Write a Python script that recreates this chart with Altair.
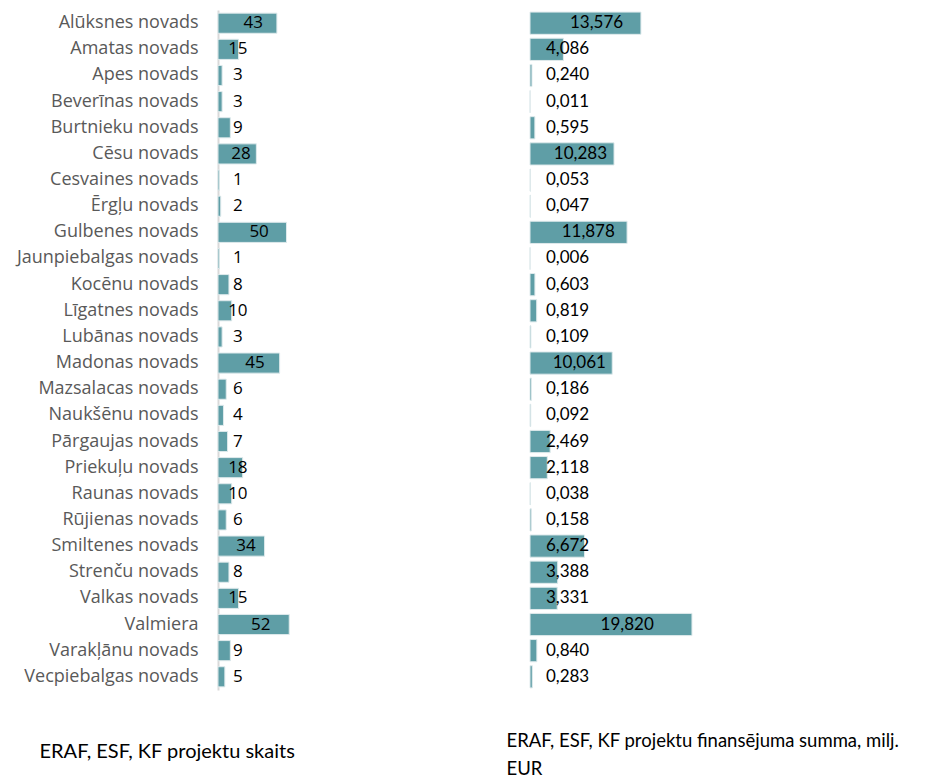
import altair as alt
import pandas as pd

categories = [
    "Alūksnes novads", "Amatas novads", "Apes novads", "Beverīnas novads",
    "Burtnieku novads", "Cēsu novads", "Cesvaines novads", "Ērgļu novads",
    "Gulbenes novads", "Jaunpiebalgas novads", "Kocēnu novads", "Līgatnes novads",
    "Lubānas novads", "Madonas novads", "Mazsalacas novads", "Naukšēnu novads",
    "Pārgaujas novads", "Priekuļu novads", "Raunas novads", "Rūjienas novads",
    "Smiltenes novads", "Strenču novads", "Valkas novads", "Valmiera",
    "Varakļānu novads", "Vecpiebalgas novads",
]
project_counts = [43, 15, 3, 3, 9, 28, 1, 2, 50, 1, 8, 10, 3, 45, 6, 4, 7, 18,
                  10, 6, 34, 8, 15, 52, 9, 5]
funding_mln_eur = [13.576, 4.086, 0.240, 0.011, 0.595, 10.283, 0.053, 0.047,
                   11.878, 0.006, 0.603, 0.819, 0.109, 10.061, 0.186, 0.092,
                   2.469, 2.118, 0.038, 0.158, 6.672, 3.388, 3.331, 19.820,
                   0.840, 0.283]

title_left = "ERAF, ESF, KF projektu skaits"
title_right = ["ERAF, ESF, KF projektu finansējuma summa, milj.", "EUR"]

df = pd.DataFrame({"cat": categories, "count": project_counts, "fund": funding_mln_eur})

TEAL = "#5f9ea6"
H = 680

left_base = alt.Chart(df).transform_calculate(
    lx="max(0.6 * datum.count, 14.5)"
)
yl = alt.Y(
    "cat:N", sort=None, title=None,
    scale=alt.Scale(paddingInner=0.23, paddingOuter=0.12),
    axis=alt.Axis(labelFont="Open Sans", labelFontSize=18, labelColor="#595959",
                  labelPadding=20, ticks=False, domainColor="#d9d9d9",
                  domainWidth=2, labelLimit=300),
)
left_bars = left_base.mark_bar(color=TEAL, stroke="#dfeaec", strokeWidth=1).encode(
    y=yl,
    x=alt.X("count:Q", scale=alt.Scale(domain=[0, 73], nice=False), axis=None),
)
left_text = left_base.mark_text(font="Open Sans", fontSize=17, color="#000000",
                                align="center").encode(
    y=alt.Y("cat:N", sort=None),
    x=alt.X("lx:Q"),
    text=alt.Text("count:Q"),
)
left = alt.layer(left_bars, left_text).properties(
    width=100, height=H,
    title=alt.TitleParams(title_left, orient="bottom", anchor="middle", frame="bounds",
                          font="Lato", fontSize=20, fontWeight="normal",
                          color="#000000", offset=52),
)

right_base = alt.Chart(df).transform_calculate(
    rx="max(0.6 * datum.fund, 4.6)",
    lbl="replace(format(datum.fund, '.3f'), '.', ',')",
)
yr = alt.Y("cat:N", sort=None, title=None,
           scale=alt.Scale(paddingInner=0.15, paddingOuter=0.08), axis=None)
right_bars = right_base.mark_bar(color=TEAL, stroke="#dfeaec", strokeWidth=1).encode(
    y=yr,
    x=alt.X("fund:Q", scale=alt.Scale(domain=[0, 46.5], nice=False), axis=None),
)
right_text = right_base.mark_text(font="Lato", fontSize=17, color="#000000",
                                  align="center").encode(
    y=alt.Y("cat:N", sort=None),
    x=alt.X("rx:Q"),
    text=alt.Text("lbl:N"),
)
right = alt.layer(right_bars, right_text).properties(
    width=380, height=H,
    title=alt.TitleParams(title_right, orient="bottom", anchor="start",
                          font="Lato", fontSize=18.5, fontWeight="normal",
                          color="#000000", offset=42, dx=-23, lineHeight=28),
)

chart = alt.hconcat(left, right, spacing=188).properties(
    padding={"left": 8, "top": 2, "right": 5, "bottom": 5}
).configure_view(stroke=None)

chart.save("out.html", embed_options={"renderer": "svg", "actions": False})
